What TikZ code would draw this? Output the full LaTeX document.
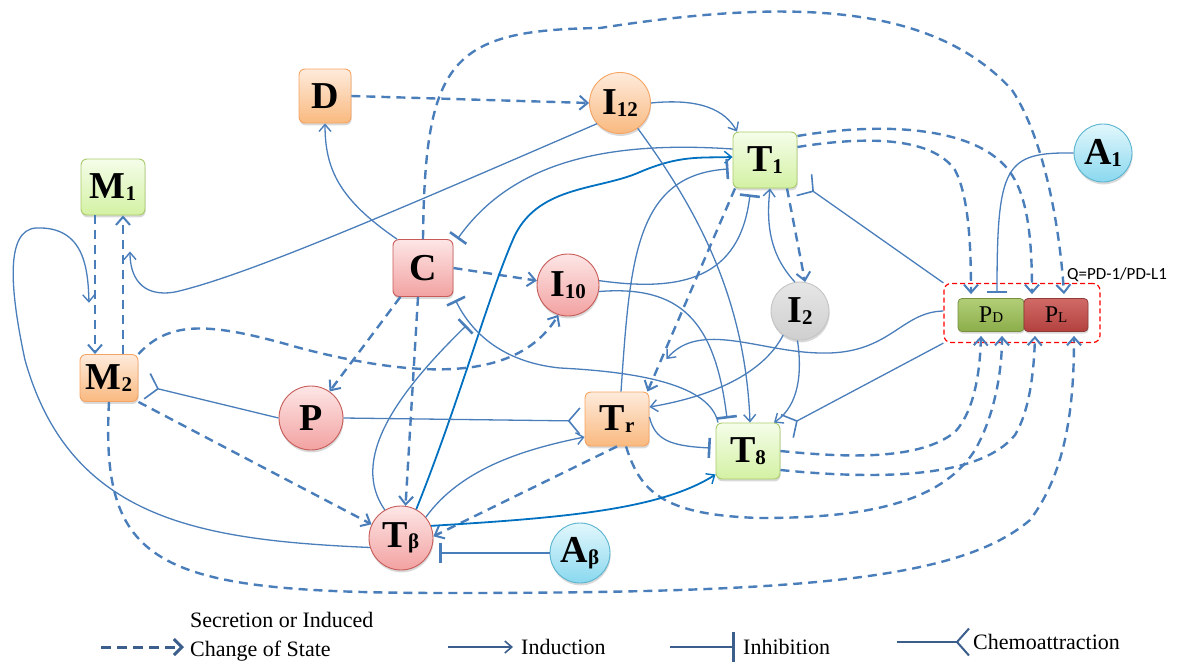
\documentclass[tikz,border=0pt]{standalone}
\usepackage{fontspec}
\setmainfont{Liberation Serif}
\newfontfamily\qfont{Carlito}
\usetikzlibrary{arrows.meta,shadows,calc}

\definecolor{linkblue}{HTML}{4A7EBB}
\definecolor{deepblue}{HTML}{0070C0}
\definecolor{keyblue}{HTML}{3B5E8C}
\definecolor{grnline}{HTML}{A9CA6C}
\definecolor{grntop}{HTML}{F5FDE9}
\definecolor{grnbot}{HTML}{D3F1A3}
\definecolor{orgline}{HTML}{F5A463}
\definecolor{orgtop}{HTML}{FEEBDC}
\definecolor{orgbot}{HTML}{F9B97F}
\definecolor{redline}{HTML}{C65B58}
\definecolor{redtop}{HTML}{FDE6E6}
\definecolor{redbot}{HTML}{F2A2A1}
\definecolor{gryline}{HTML}{C4C4C4}
\definecolor{grytop}{HTML}{E6E6E6}
\definecolor{grybot}{HTML}{CFCFCF}
\definecolor{blueline}{HTML}{5AB4CF}
\definecolor{bluetop}{HTML}{E2F7FC}
\definecolor{bluebot}{HTML}{8AD8EF}
\definecolor{pdtop}{HTML}{B2CE78}
\definecolor{pdbot}{HTML}{8CAD4A}
\definecolor{pdline}{HTML}{76903F}
\definecolor{pltop}{HTML}{D06A67}
\definecolor{plbot}{HTML}{B3413E}
\definecolor{plline}{HTML}{8E3A37}
\definecolor{qred}{HTML}{FF0000}

\newcommand\lo[1]{{\fontsize{21}{21}\selectfont\raisebox{-1.5pt}{#1}}}
\newcommand\plo[1]{{\fontsize{15}{15}\selectfont #1}}

\tikzset{
  cell/.style={rounded corners=6pt, inner sep=0pt, line width=0.9pt,
    minimum width=64pt, minimum height=56pt,
    font=\fontsize{38}{38}\selectfont\bfseries,
    drop shadow={shadow xshift=0.6pt, shadow yshift=-2.4pt, opacity=0.3}},
  ring/.style={cell, circle, minimum size=62pt},
  grncell/.style={draw=grnline, top color=grntop, bottom color=grnbot},
  orgcell/.style={draw=orgline, top color=orgtop, bottom color=orgbot},
  redcell/.style={draw=redline, top color=redtop, bottom color=redbot},
  grycell/.style={draw=gryline, top color=grytop, bottom color=grybot},
  bluecell/.style={draw=blueline, top color=bluetop, bottom color=bluebot},
  pcell/.style={rounded corners=4pt, inner sep=0pt, line width=0.8pt,
    minimum width=64pt, minimum height=33pt, font=\fontsize{24}{24}\selectfont,
    drop shadow={shadow xshift=0.6pt, shadow yshift=-2pt, opacity=0.3}},
  secrete/.style={draw=linkblue, line width=2.4pt, dash pattern=on 9pt off 6pt,
    -{Straight Barb[length=8pt,width=14pt,line width=2pt]}},
  induce/.style={draw=linkblue, line width=1.3pt,
    -{Straight Barb[length=7pt,width=12pt,line width=1.4pt]}},
  inhibit/.style={draw=linkblue, line width=1.3pt, -{Bar[width=20pt,line width=2.6pt]}},
  attract/.style={draw=linkblue, line width=1.3pt,
    -{Straight Barb[reversed,length=11pt,width=26pt,line width=1.6pt]}},
  heavy/.style={draw=deepblue, line width=1.8pt},
  keyline/.style={draw=keyblue, line width=2pt},
  keytext/.style={anchor=base west, inner sep=0pt, font=\fontsize{22}{22}\selectfont}
}

\begin{document}
\begin{tikzpicture}[x=1pt, y=-1pt]
  \useasboundingbox (0,0) rectangle (1188,662);

  \node[cell, grncell] (M1) at (113,187) {M\lo{1}};
  \node[cell, orgcell, minimum width=58pt, minimum height=47pt] (M2) at (109,378) {M\lo{2}};
  \node[cell, orgcell, minimum width=52pt, minimum height=54pt] (D) at (325,96) {D};
  \node[ring, orgcell, minimum size=61pt] (I12) at (620,103) {I\lo{12}};
  \node[cell, grncell] (T1) at (765,160) {T\lo{1}};
  \node[ring, bluecell, minimum size=58pt] (A1) at (1103,153) {A\lo{1}};
  \node[cell, redcell, minimum width=60pt, minimum height=57pt] (C) at (423,268) {C};
  \node[ring, redcell] (I10) at (568,285) {I\lo{10}};
  \node[ring, grycell, minimum size=58pt] (I2) at (800,311) {I\lo{2}};
  \node[ring, redcell, minimum size=64pt] (P) at (311,418) {P};
  \node[cell, orgcell, minimum height=54pt] (Tr) at (617,419) {T\lo{r}};
  \node[cell, grncell] (T8) at (748,451) {T\lo{8}};
  \node[ring, redcell, minimum size=64pt] (Tb) at (401,538) {T\lo{β}};
  \node[ring, bluecell, minimum size=60pt] (Ab) at (580,553) {A\lo{β}};

  \node[draw=qred, line width=1.2pt, dash pattern=on 5pt off 3pt, rounded corners=7pt,
    minimum width=156pt, minimum height=59pt, inner sep=0pt] (Q) at (1022,313) {};
  \node[pcell, draw=pdline, top color=pdtop, bottom color=pdbot, minimum width=66pt] (PD) at (991,315) {P\plo{D}};
  \node[pcell, draw=plline, top color=pltop, bottom color=plbot] (PL) at (1056,315) {P\plo{L}};
  \node[anchor=base west, inner sep=0pt, font=\qfont\fontsize{17}{17}\selectfont] (Qlab) at (1067,279) {Q=PD-1/PD-L1};

  % secretion or induced change of state
  \draw[secrete] ([xshift=-18pt]M1.south) -- coordinate[pos=0.63] (m12) ([xshift=-14pt]M2.north);
  \draw[secrete] ([xshift=14pt]M2.north) -- coordinate[pos=0.74] (m21) ([xshift=10pt]M1.south);
  \draw[secrete] (D.east) -- (I12.west);
  \draw[secrete] (C.east) -- (I10.172);
  \draw[secrete] (C.232) -- (P.55);
  \draw[secrete] ([xshift=-5pt]C.south) -- (Tb.82);
  \draw[secrete] (C.north) .. controls (425,60) and (450,30) .. (600,28)
    .. controls (780,0) and (930,0) .. (1012,90)
    .. controls (1045,140) and (1060,230) .. ([xshift=8pt,yshift=4pt]PL.north);
  \draw[secrete] (M2.north east) .. controls (170,320) and (210,322) .. (300,348)
    .. controls (430,382) and (520,378) .. (I10.252);
  \draw[secrete] (M2.south east) -- (Tb.155);
  \draw[secrete] (M2.south) .. controls (100,570) and (160,593) .. (450,593)
    .. controls (800,593) and (960,580) .. (1030,520)
    .. controls (1068,470) and (1074,400) .. ([xshift=18pt,yshift=-4pt]PL.south);
  \draw[secrete] ([xshift=22pt]T1.south) -- (I2.80);
  \draw[secrete] ([xshift=-30pt]T1.south) -- coordinate[pos=0.84] (t1r) ([xshift=-2pt]Tr.north east);
  \draw[secrete] ([yshift=13pt]T1.east) .. controls (860,137) and (930,135) .. (955,170)
    .. controls (968,195) and (971,240) .. ([xshift=-20pt,yshift=4pt]PD.north);
  \draw[secrete] ([yshift=24pt]T1.east) .. controls (880,122) and (980,125) .. (1012,175)
    .. controls (1028,200) and (1032,240) .. ([xshift=-24pt,yshift=4pt]PL.north);
  \draw[secrete] (Tr.south) -- (Tb.3);
  \draw[secrete] ([xshift=9pt]Tr.south) .. controls (640,490) and (660,515) .. (760,518)
    .. controls (860,518) and (940,505) .. (975,450)
    .. controls (995,415) and (1002,370) .. ([xshift=11pt,yshift=-4pt]PD.south);
  \draw[secrete] (T8.east) .. controls (850,458) and (920,460) .. (955,432)
    .. controls (975,410) and (980,370) .. ([xshift=-10pt,yshift=-4pt]PD.south);
  \draw[secrete] ([yshift=-19pt]T8.east) .. controls (880,480) and (980,478) .. (1015,435)
    .. controls (1030,410) and (1034,370) .. ([xshift=-21pt,yshift=-4pt]PL.south);

  % induction
  \draw[induce] (Tb.197) .. controls (200,540) and (70,520) .. (25,360)
    .. controls (10,290) and (5,230) .. (36,228)
    .. controls (85,226) and (88,270) .. ([xshift=-6pt]m12);
  \draw[induce] (I12.222) .. controls (420,200) and (250,275) .. (175,292)
    .. controls (140,298) and (130,275) .. ([xshift=7pt]m21);
  \draw[induce] (C.132) .. controls (340,200) and (325,170) .. (D.south);
  \draw[induce] (I12.east) .. controls (700,98) and (725,110) .. ([xshift=-28pt]T1.north);
  \draw[induce, heavy] (Tb.62) .. controls (460,400) and (490,290) .. (515,235)
    .. controls (540,185) and (600,190) .. (640,172)
    .. controls (680,155) and (700,158) .. ([yshift=3pt]T1.west);
  \draw[induce] (I2.100) .. controls (770,255) and (766,225) .. ([xshift=5pt]T1.south);
  \draw[induce] (Tb.40) .. controls (460,470) and (520,450) .. ([yshift=-18pt]Tr.west);
  \draw[induce, heavy] (Tb.22) .. controls (560,518) and (660,510) .. ([yshift=5pt]T8.south west);
  \draw[induce] (I2.235) .. controls (765,370) and (720,395) .. ([yshift=12pt]Tr.east);
  \draw[induce] (I2.265) .. controls (802,370) and (800,405) .. ([xshift=26pt]T8.north);
  \draw[induce] (I12.305) .. controls (690,200) and (745,290) .. ([xshift=2pt]T8.north);
  \draw[induce] ([yshift=2pt]Q.west) .. controls (900,312) and (890,355) .. (820,353)
    .. controls (760,352) and (700,320) .. ([xshift=5pt]t1r);

  % inhibition
  \draw[inhibit] ([yshift=11pt]T1.west) .. controls (600,140) and (510,165) .. ([xshift=4pt]C.north east);
  \draw[inhibit] ([xshift=-30pt]T8.north) .. controls (710,385) and (640,372) .. (560,368)
    .. controls (500,362) and (470,330) .. ([xshift=2pt,yshift=-3pt]C.south east) coordinate[pos=0.75] (kill);
  \draw[inhibit] (Tb.120) .. controls (350,460) and (395,395) .. ([xshift=-3pt,yshift=-3pt]kill);
  \draw[inhibit] ([xshift=4pt]Tr.north) .. controls (630,260) and (635,175) .. ([xshift=-4pt,yshift=-9pt]T1.west);
  \draw[inhibit] (I10.8) .. controls (680,292) and (740,280) .. ([xshift=-15pt,yshift=-6pt]T1.south);
  \draw[inhibit] (I10.-12) .. controls (680,285) and (715,320) .. ([xshift=-21pt,yshift=4pt]T8.north);
  \draw[inhibit] ([yshift=2pt]Tr.east) .. controls (655,440) and (670,446) .. ([xshift=-5pt,yshift=3pt]T8.west);
  \draw[inhibit] (Ab.west) -- ($(Ab.west -| Tb.east)+(6pt,0)$);
  \draw[inhibit] (A1.west) .. controls (1005,152) and (997,165) .. ([xshift=6pt,yshift=5pt]PD.north);

  % chemoattraction
  \draw[attract] (P.west) -- ([xshift=8pt,yshift=-8pt]M2.east);
  \draw[attract] (P.east) -- ([xshift=-4pt,yshift=-2pt]Tr.west);
  \draw[attract] (Q.north west) -- ([xshift=6pt,yshift=4pt]T1.south east);
  \draw[attract] (Q.south west) -- ([xshift=6pt,yshift=-4pt]T8.north east);

  % key
  \coordinate (k1a) at (101,647);
  \coordinate (k1b) at (184,647);
  \draw[keyline, line width=3pt, dash pattern=on 10pt off 6pt,
    -{Straight Barb[length=8pt,width=16pt,line width=3pt]}] (k1a) -- (k1b);
  \node[keytext] (k1t) at (190,627) {Secretion or Induced};
  \node[keytext] (k1u) at (190,656) {Change of State};
  \coordinate (k2a) at (448,647);
  \coordinate (k2b) at (513,647);
  \draw[keyline, -{Straight Barb[length=7pt,width=12pt,line width=1.6pt]}] (k2a) -- (k2b);
  \node[keytext] (k2t) at (521,654) {Induction};
  \coordinate (k3a) at (670,647);
  \coordinate (k3b) at (735,647);
  \draw[keyline, -{Bar[width=30pt,line width=2.6pt]}] (k3a) -- (k3b);
  \node[keytext] (k3t) at (743,654) {Inhibition};
  \coordinate (k4a) at (897,642);
  \coordinate (k4b) at (970,642);
  \draw[keyline, -{Straight Barb[reversed,length=12pt,width=27pt,line width=2pt]}] (k4a) -- (k4b);
  \node[keytext] (k4t) at (973,649) {Chemoattraction};
\end{tikzpicture}
\end{document}
